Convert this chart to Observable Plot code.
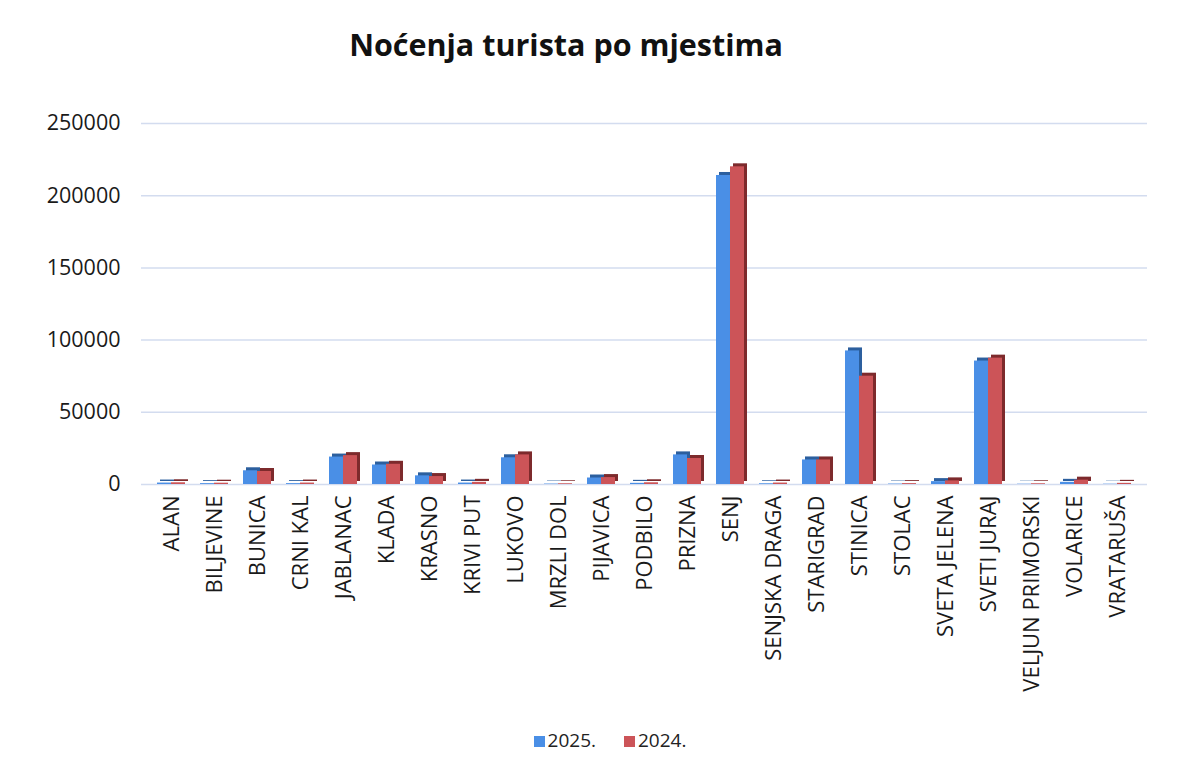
<!DOCTYPE html>
<html>
<head>
<meta charset="utf-8">
<script src="https://cdn.jsdelivr.net/npm/d3@7"></script>
<script src="https://cdn.jsdelivr.net/npm/@observablehq/plot@0.6"></script>
<style>
  body { margin: 0; background: #fff; font-family: "Open Sans", sans-serif; }
  #wrap { width: 1200px; height: 769px; position: relative; }
  #title { position: absolute; top: 23px; left: 0; width: 1132px; text-align: center; font-size: 30.5px; font-weight: 700; color: #111; }
  #chart { position: absolute; top: 80px; left: 0; }
  #legend { position: absolute; top: 727px; left: 0; width: 1220px; text-align: center; font-size: 19px; color: #222; }
  #legend span.sw { display: inline-block; width: 11px; height: 11px; margin-right: 3px; vertical-align: 0px; }
  #legend span.item { margin: 0 14px; }
</style>
</head>
<body>
<div id="wrap">
  <div id="title">Noćenja turista po mjestima</div>
  <div id="chart"></div>
  <div id="legend"></div>
</div>
<script>
const places = ["ALAN","BILJEVINE","BUNICA","CRNI KAL","JABLANAC","KLADA","KRASNO","KRIVI PUT","LUKOVO","MRZLI DOL","PIJAVICA","PODBILO","PRIZNA","SENJ","SENJSKA DRAGA","STARIGRAD","STINICA","STOLAC","SVETA JELENA","SVETI JURAJ","VELJUN PRIMORSKI","VOLARICE","VRATARUŠA"];
const series = ["2025.", "2024."];
const values2025 = [1000, 600, 9500, 600, 19000, 13500, 6000, 1000, 18500, 300, 4500, 800, 20500, 214000, 500, 17000, 92500, 300, 2000, 85500, 200, 1500, 200];
const values2024 = [1200, 900, 9000, 1000, 20000, 14000, 5500, 1500, 20500, 500, 4800, 1200, 18000, 220000, 1000, 17000, 75000, 600, 2500, 87500, 500, 3000, 800];
const yTicks = [0, 50000, 100000, 150000, 200000, 250000];
const colors = ["#4a8fe6", "#cc5458"];
const sideColors = ["#2c5f9e", "#7d2a2c"];

const rows = [];
places.forEach((p, i) => {
  rows.push({place: p, year: series[0], value: values2025[i]});
  rows.push({place: p, year: series[1], value: values2024[i]});
});
const r2025 = rows.filter(d => d.year === series[0]);
const r2024 = rows.filter(d => d.year === series[1]);

const width = 1200, marginLeft = 141, marginRight = 53;
const n = places.length, pIn = 0.36, pOut = 0.18;
const step = (width - marginLeft - marginRight) / (n - pIn + 2 * pOut);
const half = step * (1 - pIn) / 2;

const chart = Plot.plot({
  width,
  height: 640,
  marginTop: 43,
  marginBottom: 236,
  marginLeft,
  marginRight,
  style: {fontFamily: "Open Sans, sans-serif", background: "#fff", color: "#1a1a1a"},
  x: {domain: places, paddingInner: pIn, paddingOuter: pOut, label: null},
  y: {domain: [0, 250000], label: null},
  color: {domain: series, range: colors},
  marks: [
    Plot.ruleY(yTicks, {stroke: "#d3dcef", strokeWidth: 1.5}),
    Plot.barY(r2025, {x: "place", y: "value", fill: sideColors[0], insetRight: half, dx: 3, dy: -3}),
    Plot.barY(r2025, {x: "place", y: "value", fill: "year", insetRight: half}),
    Plot.barY(r2024, {x: "place", y: "value", fill: sideColors[1], insetLeft: half, dx: 3, dy: -3}),
    Plot.barY(r2024, {x: "place", y: "value", fill: "year", insetLeft: half}),
    Plot.axisX({tickSize: 0, tickRotate: -90, tickPadding: 11, fontSize: 22, label: null}),
    Plot.axisY({ticks: yTicks, tickSize: 0, tickPadding: 21, fontSize: 21.5, tickFormat: d => String(d), label: null})
  ]
});
document.getElementById("chart").appendChild(chart);

const legend = document.getElementById("legend");
series.forEach((s, i) => {
  const item = document.createElement("span");
  item.className = "item";
  const sw = document.createElement("span");
  sw.className = "sw";
  sw.style.background = colors[i];
  item.appendChild(sw);
  item.appendChild(document.createTextNode(s));
  legend.appendChild(item);
});
</script>
</body>
</html>
